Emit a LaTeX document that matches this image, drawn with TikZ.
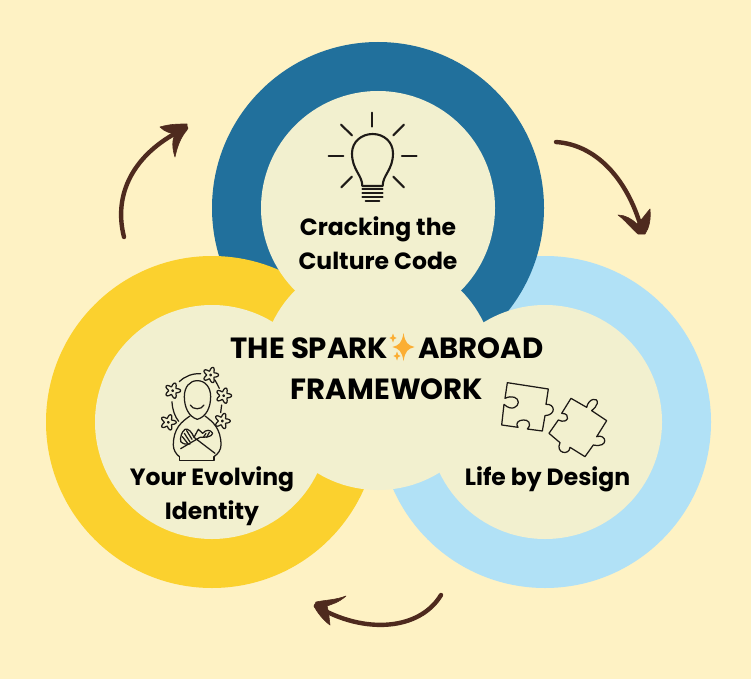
\documentclass[tikz,border=0pt]{standalone}
\usepackage{fontspec}
\setmainfont{Poppins}
\usepackage{tikz}
\usetikzlibrary{positioning,calc}
\definecolor{creambg}{HTML}{FEF2C4}
\definecolor{paledisc}{HTML}{F2F0CF}
\definecolor{ringblue}{HTML}{21709C}
\definecolor{ringsky}{HTML}{B1E1F6}
\definecolor{ringyellow}{HTML}{FBD12E}
\definecolor{sweepbrown}{HTML}{4E2A1E}
\definecolor{sparkorange}{HTML}{FBAE33}
\definecolor{inkline}{HTML}{1E1A17}
\tikzset{
    ring/.style={circle,minimum size=332pt,inner sep=0pt},
    disc/.style={circle,fill=paledisc,minimum size=234pt,inner sep=0pt},
    title/.style={font=\fontsize{29.2}{41}\selectfont\bfseries,align=center,inner sep=0pt,text=black},
    label/.style={font=\fontsize{23.5}{34}\selectfont\bfseries,align=center,inner sep=0pt,text=black},
    sweep/.style={draw=sweepbrown,line width=4.4pt,line cap=round},
    barb/.style={fill=sweepbrown,draw=sweepbrown,line width=0.6pt,line join=round},
    icon/.style={draw=inkline,line width=2.1pt,line cap=round,line join=round},
    thinicon/.style={draw=inkline,line width=1.25pt,line cap=round,line join=round}
}
\newcommand{\flowerat}[2]{%
    \draw[thinicon,fill=paledisc] plot[smooth cycle,samples=40,domain=0:351] ({#1+(18+6*cos(5*\x))*cos(\x)},{#2+(18+6*cos(5*\x))*sin(\x)});
    \draw[thinicon] (#1,#2) circle (2.5);
}
\newcommand{\sparkat}[3]{%
    \fill[sparkorange] (#1,#2-#3) .. controls (#1+0.12*#3,#2-0.3*#3) and (#1+0.3*#3,#2-0.12*#3) .. (#1+0.8*#3,#2) .. controls (#1+0.3*#3,#2+0.12*#3) and (#1+0.12*#3,#2+0.3*#3) .. (#1,#2+#3) .. controls (#1-0.12*#3,#2+0.3*#3) and (#1-0.3*#3,#2+0.12*#3) .. (#1-0.8*#3,#2) .. controls (#1-0.3*#3,#2-0.12*#3) and (#1-0.12*#3,#2-0.3*#3) .. (#1,#2-#3) -- cycle;
}
\begin{document}
\begin{tikzpicture}[x=1pt,y=-1pt]
    \useasboundingbox (0,0) rectangle (751,679);
    \fill[creambg] (0,0) rectangle (751,679);

    % Rings, back to front
    \node[ring,fill=ringsky] (skyring) at (545,422) {};
    \node[ring,fill=ringblue] (bluering) at (378,208) {};
    \node[ring,fill=ringyellow] (yellowring) at (212,422) {};

    % Inner discs
    \node[disc] (skydisc) at (545,422) {};
    \node[disc] (bluedisc) at (378,208) {};
    \node[disc] (yellowdisc) at (212,422) {};
    \node[disc] (middisc) at (378,373) {};

    % Labels
    \node[title] (frame) at (387,368.5) {THE SPARK\hspace{30pt}ABROAD\\FRAMEWORK};
    \node[label] (crack) at (378,243) {Cracking the\\Culture Code};
    \node[label] (identity) at (212,496) {Your Evolving\\Identity};
    \node[label] (design) at (547.5,479) {Life by Design};

    % Sparkle
    \sparkat{403.5}{347}{14}
    \sparkat{393}{338}{4.5}
    \sparkat{397}{356}{4.5}

    % Arrow ends
    \coordinate (upA) at (124,237);
    \coordinate (upB) at (186,128);
    \coordinate (rightA) at (556,142);
    \coordinate (rightB) at (642,231);
    \coordinate (lowA) at (441,595);
    \coordinate (lowB) at (316,606);

    % Arrows
    \draw[sweep] (upA) .. controls (112,190) and (138,150) .. (upB);
    \fill[barb] (160,127) .. controls (170,124) and (178,124) .. (187,124) -- (187,130) .. controls (180,138) and (177,148) .. (175,157) .. controls (172,148) and (172,140) .. (175,134) .. controls (170,133) and (165,132) .. (160,127) -- cycle;
    \draw[sweep] (rightA) .. controls (600,145) and (630,185) .. (rightB);
    \fill[barb] (618,215) .. controls (625,215) and (632,219) .. (637,224) .. controls (640,222) and (644,216) .. (650,209) .. controls (651,220) and (649,228) .. (645,234) -- (638,234) .. controls (631,228) and (625,220) .. (618,215) -- cycle;
    \draw[sweep] (lowA) .. controls (420,630) and (365,635) .. (lowB);
    \fill[barb] (346,596) .. controls (338,603) and (332,604) .. (327,606) .. controls (329,612) and (329,618) .. (330,625) .. controls (323,620) and (317,612) .. (314,606) -- (316,602) .. controls (325,600) and (336,600) .. (346,596) -- cycle;

    % Light bulb
    \begin{scope}[shift={(300,90)},x=0.3333pt,y=-0.3333pt]
        \draw[icon] (217,68) -- (217,110);
        \draw[icon] (123,104) -- (156,136);
        \draw[icon] (312,104) -- (280,136);
        \draw[icon] (86,198) -- (130,198);
        \draw[icon] (306,198) -- (350,198);
        \draw[icon] (124,292) -- (156,260);
        \draw[icon] (312,292) -- (280,260);
        \draw[icon] (187,288) .. controls (187,255) and (156,240) .. (156,190) .. controls (156,155) and (185,132) .. (218,132) .. controls (251,132) and (279,155) .. (279,190) .. controls (279,240) and (248,255) .. (248,288) -- cycle;
        \foreach \h in {298,310,322}
            \draw[icon] (187,\h) -- (248,\h);
        \draw[icon] (197,332) -- (238,332);
    \end{scope}

    % Person with flowers
    \begin{scope}[shift={(140,350)},x=0.3333pt,y=-0.3333pt]
        \draw[thinicon] (172,92) .. controls (148,92) and (133,112) .. (133,140) .. controls (133,170) and (145,200) .. (172,208) .. controls (200,200) and (212,170) .. (212,140) .. controls (212,112) and (196,92) .. (172,92) -- cycle;
        \draw[thinicon] (151,165) .. controls (158,180) and (185,180) .. (192,165);
        \draw[thinicon] (150,198) .. controls (125,215) and (100,235) .. (100,285) .. controls (100,300) and (108,312) .. (118,320);
        \draw[thinicon] (195,198) .. controls (218,215) and (243,235) .. (243,285) .. controls (243,300) and (234,312) .. (222,320);
        \draw[thinicon] (118,320) -- (118,331) -- (222,331) -- (222,320);
        \draw[thinicon] (122,296) -- (180,262) .. controls (195,262) and (215,262) .. (218,250) .. controls (212,238) and (197,238) .. (188,250) -- (175,238) -- (162,262) -- (225,310);
        \draw[thinicon] (162,262) .. controls (155,245) and (145,235) .. (135,238) .. controls (125,245) and (120,262) .. (122,275) .. controls (130,282) and (140,285) .. (150,282);
        \draw[thinicon] (140,242) -- (156,268);
        \draw[thinicon] (133,250) -- (150,276);
        \draw[thinicon] (127,260) -- (143,280);
        \draw[thinicon] (198,250) -- (190,262);
        \draw[thinicon] (208,247) -- (200,262);
        \draw[thinicon] (118,95) .. controls (135,78) and (158,70) .. (182,71);
        \draw[thinicon] (225,90) -- (238,115);
        \draw[thinicon] (245,165) -- (242,188);
        \draw[thinicon] (96,155) .. controls (97,180) and (105,200) .. (116,214);
        \flowerat{98}{122}
        \flowerat{212}{75}
        \flowerat{251}{137}
        \flowerat{247}{213}
        \flowerat{85}{217}
    \end{scope}

    % Puzzle pieces
    \begin{scope}[shift={(490,370)},x=0.3333pt,y=-0.3333pt]
        \draw[thinicon] (52,38) -- (175,57) -- (168,103) .. controls (195,100) and (200,135) .. (165,137) -- (157,183) -- (112,177) .. controls (128,160) and (112,148) .. (100,150) .. controls (85,150) and (75,160) .. (84,172) -- (35,165) -- (42,103) .. controls (65,125) and (85,110) .. (85,97) .. controls (85,82) and (65,75) .. (45,85) -- cycle;
        \draw[thinicon] (243,85) -- (290,112) .. controls (295,85) and (325,80) .. (322,100) .. controls (320,110) and (312,115) .. (305,122) -- (350,152) -- (320,200) .. controls (350,190) and (358,235) .. (310,225) -- (285,260) -- (240,232) .. controls (238,258) and (195,250) .. (210,218) -- (177,190) -- (205,150) .. controls (235,165) and (245,130) .. (215,130) -- cycle;
    \end{scope}
\end{tikzpicture}
\end{document}
